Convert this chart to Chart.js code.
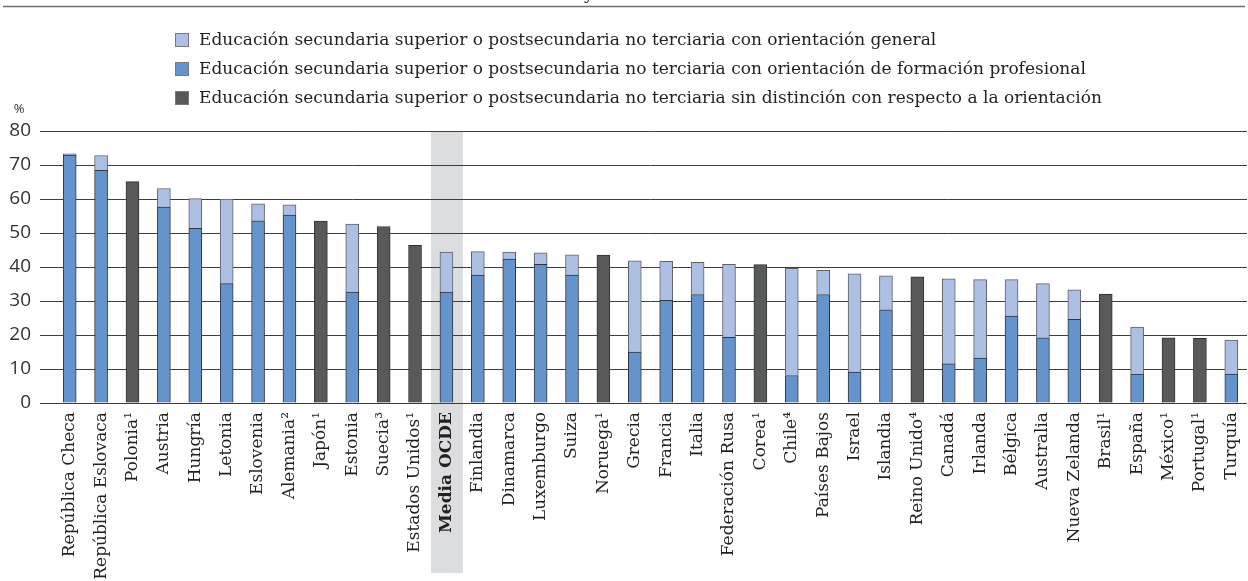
<!DOCTYPE html>
<html>
<head>
<meta charset="utf-8">
<script src="https://cdn.jsdelivr.net/npm/chart.js@4.4.1/dist/chart.umd.min.js"></script>
<style>
  html, body { margin: 0; padding: 0; background: #ffffff; }
  #wrap { width: 1248px; height: 581px; position: relative; }
</style>
</head>
<body>
<div id="wrap"><canvas id="c" width="1248" height="581"></canvas></div>
<script>
const categories = [
  "República Checa", "República Eslovaca", "Polonia¹", "Austria", "Hungría", "Letonia",
  "Eslovenia", "Alemania²", "Japón¹", "Estonia", "Suecia³", "Estados Unidos¹",
  "Media OCDE", "Finlandia", "Dinamarca", "Luxemburgo", "Suiza", "Noruega¹",
  "Grecia", "Francia", "Italia", "Federación Rusa", "Corea¹", "Chile⁴",
  "Países Bajos", "Israel", "Islandia", "Reino Unido⁴", "Canadá", "Irlanda",
  "Bélgica", "Australia", "Nueva Zelanda", "Brasil¹", "España", "México¹",
  "Portugal¹", "Turquía"
];
const highlight = "Media OCDE";

const vocational = [
  72.9, 68.4, null, 57.6, 51.4, 35.1,
  53.6, 55.3, null, 32.6, null, null,
  32.6, 37.6, 42.3, 40.8, 37.6, null,
  15.0, 30.2, 31.9, 19.3, null, 8.1,
  31.9, 9.1, 27.4, null, 11.5, 13.2,
  25.6, 19.2, 24.6, null, 8.5, null,
  null, 8.5
];
const general = [
  0.4, 4.4, null, 5.5, 8.7, 24.9,
  5.0, 3.0, null, 20.0, null, null,
  11.8, 6.9, 2.1, 3.4, 6.0, null,
  26.8, 11.5, 9.5, 21.5, null, 31.5,
  7.1, 28.9, 10.0, null, 25.0, 23.1,
  10.7, 15.9, 8.7, null, 13.8, null,
  null, 10.0
];
const noDistinction = [
  null, null, 65.1, null, null, null,
  null, null, 53.5, null, 51.9, 46.4,
  null, null, null, null, null, 43.5,
  null, null, null, null, 40.7, null,
  null, null, null, 37.1, null, null,
  null, null, null, 32.0, null, 19.2,
  19.0, null
];
const yTicks = [0, 10, 20, 30, 40, 50, 60, 70, 80];

const labelGeneral = "Educación secundaria superior o postsecundaria no terciaria con orientación general";
const labelVocational = "Educación secundaria superior o postsecundaria no terciaria con orientación de formación profesional";
const labelNone = "Educación secundaria superior o postsecundaria no terciaria sin distinción con respecto a la orientación";

const SERIF = "'DejaVu Serif', serif";
const SANS = "'Open Sans', sans-serif";

const decorPlugin = {
  id: 'decor',
  beforeDraw(chart) {
    const { ctx, scales: { x }, chartArea } = chart;
    const idx = categories.indexOf(highlight);
    const slot = x.width / categories.length;
    const cx = x.getPixelForValue(idx);
    ctx.save();
    ctx.fillStyle = '#dcdddf';
    ctx.fillRect(Math.round(cx - slot / 2), chartArea.top, Math.round(slot + 1), 573 - chartArea.top);
    ctx.restore();
  },
  afterDraw(chart) {
    const { ctx } = chart;
    ctx.save();
    // cut-off title fragment and top rule
    ctx.fillStyle = '#231f20';
    ctx.font = "17px " + SERIF;
    ctx.textAlign = 'left';
    ctx.textBaseline = 'alphabetic';
    ctx.fillText('y', 584, -1);
    ctx.strokeStyle = '#6e6e6e';
    ctx.lineWidth = 1.5;
    ctx.beginPath();
    ctx.moveTo(3, 6.5);
    ctx.lineTo(1245, 6.5);
    ctx.stroke();
    // % label
    ctx.fillStyle = '#333333';
    ctx.font = "13px " + SANS;
    ctx.textAlign = 'center';
    ctx.fillText('%', 19, 113);
    // legend
    const order = [1, 0, 2];
    const rows = [40, 69, 98];
    ctx.font = "17px " + SERIF;
    ctx.textAlign = 'left';
    ctx.textBaseline = 'middle';
    order.forEach((di, r) => {
      const ds = chart.data.datasets[di];
      const y = rows[r];
      ctx.fillStyle = ds.backgroundColor;
      ctx.fillRect(175, y - 7, 14, 14);
      ctx.strokeStyle = '#77797c';
      ctx.lineWidth = 1;
      ctx.strokeRect(175.5, y - 6.5, 13, 13);
      ctx.fillStyle = '#231f20';
      ctx.fillText(ds.label, 199, y + 1);
    });
    ctx.restore();
  }
};

new Chart(document.getElementById('c'), {
  type: 'bar',
  data: {
    labels: categories,
    datasets: [
      { label: labelVocational, data: vocational, backgroundColor: '#6594cd', borderColor: '#2e3440', borderWidth: 1 },
      { label: labelGeneral, data: general, backgroundColor: '#adc0e3', borderColor: '#5f6166', borderWidth: 1 },
      { label: labelNone, data: noDistinction, backgroundColor: '#58595b', borderColor: '#333333', borderWidth: 1 }
    ]
  },
  options: {
    responsive: false,
    animation: false,
    devicePixelRatio: 1,
    layout: { padding: { top: 131, right: 1, bottom: 0, left: 0 } },
    datasets: { bar: { barThickness: 13, categoryPercentage: 1, barPercentage: 1 } },
    plugins: { legend: { display: false }, tooltip: { enabled: false }, title: { display: false } },
    scales: {
      x: {
        stacked: true,
        grid: { display: false, drawTicks: false },
        border: { display: false },
        ticks: {
          autoSkip: false,
          maxRotation: 90,
          minRotation: 90,
          padding: 9,
          color: '#231f20',
          font: (ctx) => ({ family: SERIF, size: 17, weight: (categories[ctx.index] === highlight ? 'bold' : 'normal') })
        },
        afterFit: (s) => { s.height = 178; s.paddingLeft = 0; s.paddingRight = 0; }
      },
      y: {
        stacked: true,
        min: 0,
        max: 80,
        afterBuildTicks: (s) => { s.ticks = yTicks.map(v => ({ value: v })); },
        grid: { color: '#3d3d3d', lineWidth: 1, drawTicks: true, tickLength: 14 },
        border: { display: false },
        ticks: { color: '#333333', padding: 9, font: { family: SANS, size: 19 } },
        afterFit: (s) => { s.width = 54; }
      }
    }
  },
  plugins: [decorPlugin]
});
</script>
</body>
</html>
